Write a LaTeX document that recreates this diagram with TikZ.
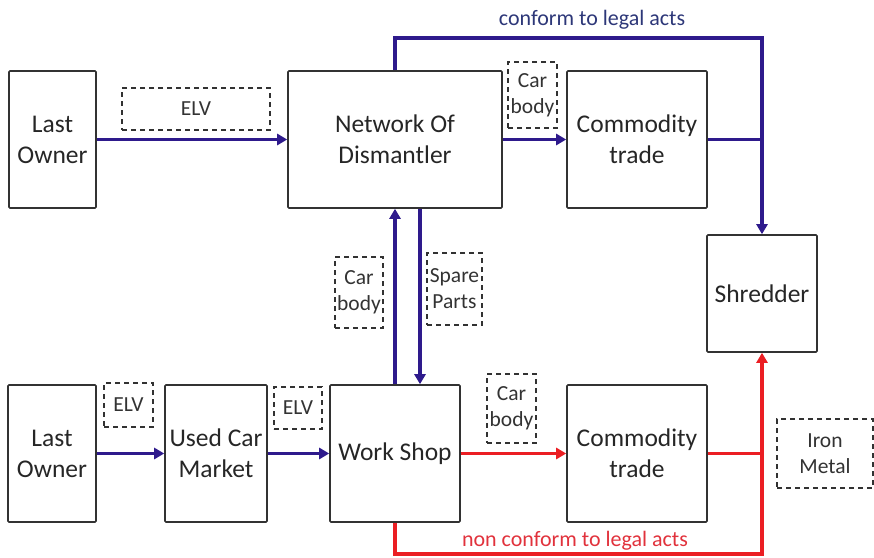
\documentclass[tikz,border=0pt]{standalone}
\usepackage{fontspec}
\setmainfont{Carlito}
\usetikzlibrary{arrows.meta}
\definecolor{flowblue}{RGB}{46,26,140}
\definecolor{textblue}{RGB}{45,55,120}
\definecolor{flowred}{RGB}{235,30,35}
\definecolor{textred}{RGB}{225,50,60}
\definecolor{boxgray}{RGB}{50,50,50}
\tikzset{
  procbox/.style={draw=boxgray, line width=1.6pt, rounded corners=1pt, inner sep=0pt, align=center,
    font=\fontsize{25.5}{31}\selectfont, text=black!85},
  tagbox/.style={draw=boxgray, dashed, dash pattern=on 5pt off 4pt, line width=1.4pt, inner sep=0pt, align=center,
    font=\fontsize{21.5}{26}\selectfont, text=black!80},
  blueflow/.style={draw=flowblue, line width=3.2pt},
  redflow/.style={draw=flowred, line width=3.2pt},
  tip/.style={-{Triangle[length=10pt,width=11pt]}}
}
\begin{document}
\begin{tikzpicture}[x=1pt,y=-1pt]
\useasboundingbox (0,0) rectangle (874,557);
% main boxes
\node[procbox, minimum width=87pt, minimum height=137pt] (lo1) at (52.5,139.5) {Last\\Owner};
\node[procbox, minimum width=214pt, minimum height=137pt] (nod) at (395,139.5) {Network Of\\Dismantler};
\node[procbox, minimum width=140pt, minimum height=137pt] (ct1) at (637,139.5) {Commodity\\trade};
\node[procbox, minimum width=110pt, minimum height=117pt] (shred) at (762,293.5) {Shredder};
\node[procbox, minimum width=88pt, minimum height=137pt] (lo2) at (52,453.5) {Last\\Owner};
\node[procbox, minimum width=102pt, minimum height=137pt] (ucm) at (216,453.5) {Used Car\\Market};
\node[procbox, minimum width=130pt, minimum height=137pt] (ws) at (395,453.5) {Work Shop};
\node[procbox, minimum width=140pt, minimum height=137pt] (ct2) at (637,453.5) {Commodity\\trade};
% dashed tags
\node[tagbox, minimum width=148pt, minimum height=42pt] (elv1) at (196,109) {ELV};
\node[tagbox, minimum width=49pt, minimum height=66pt] (cb1) at (532.5,95) {Car\\body};
\node[tagbox, minimum width=48pt, minimum height=71pt] (cb2) at (359,292.5) {Car\\body};
\node[tagbox, minimum width=55pt, minimum height=72pt] (sp) at (454.5,289) {Spare\\Parts};
\node[tagbox, minimum width=49pt, minimum height=44pt] (elv2) at (128.5,405) {ELV};
\node[tagbox, minimum width=48pt, minimum height=42pt] (elv3) at (298,408) {ELV};
\node[tagbox, minimum width=49pt, minimum height=69pt] (cb3) at (511.5,408.5) {Car\\body};
\node[tagbox, minimum width=96pt, minimum height=69pt] (iron) at (825,453.5) {Iron\\Metal};
% route labels
\node[font=\fontsize{22}{26}\selectfont, text=textblue] (conf) at (592,20) {conform to legal acts};
\node[font=\fontsize{22}{26}\selectfont, text=textred] (nconf) at (575,541) {non conform to legal acts};
\coordinate (toprow) at (0,38);
\coordinate (botrow) at (0,554);
% blue flows
\draw[blueflow, tip] (lo1.east) -- (nod.west);
\draw[blueflow, tip] (nod.east) -- (ct1.west);
\draw[blueflow] (ct1.east) -- (ct1.east -| shred.north);
\draw[blueflow, tip] (nod.north) -- (nod.north |- toprow) -| (shred.north);
\draw[blueflow, tip] (ws.north) -- (ws.north |- nod.south);
\draw[blueflow, tip] ([xshift=25pt]nod.south) -- ([xshift=25pt]nod.south |- ws.north);
\draw[blueflow, tip] (lo2.east) -- (ucm.west);
\draw[blueflow, tip] (ucm.east) -- (ws.west);
% red flows
\draw[redflow, tip] (ws.east) -- (ct2.west);
\draw[redflow] (ct2.east) -- (ct2.east -| shred.south);
\draw[redflow, tip] (ws.south) -- (ws.south |- botrow) -| (shred.south);
\end{tikzpicture}
\end{document}
